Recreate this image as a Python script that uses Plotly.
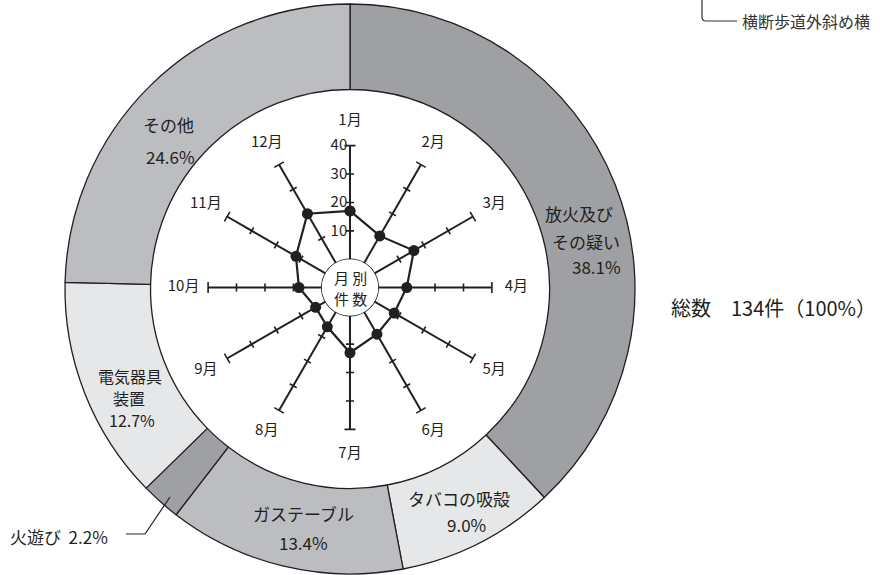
import math
import plotly.graph_objects as go

# ---------------- data ----------------
cause_labels = ["放火及び\nその疑い", "タバコの吸殻", "ガステーブル", "火遊び", "電気器具\n装置", "その他"]
cause_counts = [51, 12, 18, 3, 17, 33]
cause_pct_text = ["38.1%", "9.0%", "13.4%", "2.2%", "12.7%", "24.6%"]
cause_colors = ["#9fa0a3", "#e6e7e8", "#bcbdc0", "#9fa0a3", "#e6e7e8", "#bcbdc0"]

months = ["1月", "2月", "3月", "4月", "5月", "6月", "7月", "8月", "9月", "10月", "11月", "12月"]
month_counts = [17, 11, 16, 10, 8, 9, 13, 6, 4, 8, 12, 20]
radial_ticks = [10, 20, 30, 40]

total_text = "総数　134件（100%）"
corner_text = "横断歩道外斜め横"
center_text = ["月 別", "件 数"]

W, H = 880, 575
FONT = "Noto Sans CJK JP"
TXT = "#231f20"

def px(x):
    return x / W

def py(y):
    return 1 - y / H

# geometry (pixels)
DCX, DCY, DR = 350, 289, 285          # donut
PCX, PCY = 350, 287.5                  # polar centre
HOLE_PX, AXIS_PX = 28.3, 142.0         # radius of value 0 and of value 40
RMAX = 48.8                            # radial range top (room for month labels)
LABEL_R = 48.6
PR = HOLE_PX + (AXIS_PX - HOLE_PX) * RMAX / radial_ticks[-1]
HOLE = HOLE_PX / PR

fig = go.Figure()

fig.add_trace(go.Pie(
    values=cause_counts,
    labels=[l.replace("\n", "") for l in cause_labels],
    sort=False,
    direction="clockwise",
    rotation=0,
    hole=0.70,
    textinfo="none",
    hoverinfo="label+percent",
    marker=dict(colors=cause_colors, line=dict(color="#231f20", width=1.3)),
    domain=dict(x=[px(DCX - DR), px(DCX + DR)], y=[py(DCY + DR), py(DCY - DR)]),
    showlegend=False,
))

angles = [i * 360 / len(months) for i in range(len(months))]

# spokes (axis per month, 0 .. 40)
sr, st = [], []
for a in angles:
    sr += [0, radial_ticks[-1], None]
    st += [a, a, None]
fig.add_trace(go.Scatterpolar(
    r=sr, theta=st, mode="lines",
    line=dict(color="#231f20", width=2),
    hoverinfo="skip", showlegend=False, subplot="polar",
))

# spoke tick marks (short chords perpendicular to each spoke)
def r_px(v):
    return HOLE_PX + (AXIS_PX - HOLE_PX) * v / radial_ticks[-1]

tr, tt = [], []
for a in angles:
    for v in radial_ticks:
        L = 5.5 if v == radial_ticks[-1] else 4.0
        d = math.degrees(L / r_px(v))
        tr += [v, v, None]
        tt += [a - d, a + d, None]

fig.add_trace(go.Scatterpolar(
    r=tr, theta=tt, mode="lines",
    line=dict(color="#231f20", width=1.6),
    hoverinfo="skip", showlegend=False, subplot="polar",
))

# center circle
circ_t = [i for i in range(0, 361, 3)]
fig.add_trace(go.Scatterpolar(
    r=[0] * len(circ_t), theta=circ_t, mode="lines",
    line=dict(color="#231f20", width=1.4),
    hoverinfo="skip", showlegend=False, subplot="polar",
))

# month labels
fig.add_trace(go.Scatterpolar(
    r=[LABEL_R] * len(months), theta=angles, mode="text",
    text=months, textposition="middle center",
    textfont=dict(size=15, color=TXT, family=FONT),
    cliponaxis=False, hoverinfo="skip", showlegend=False, subplot="polar",
))

fig.add_trace(go.Scatterpolar(
    r=month_counts + month_counts[:1],
    theta=angles + angles[:1],
    mode="lines+markers",
    line=dict(color="#231f20", width=2.2),
    marker=dict(color="#231f20", size=11),
    text=months + months[:1],
    hovertemplate="%{text}: %{r}件<extra></extra>",
    showlegend=False, subplot="polar",
))

fig.update_layout(
    width=W, height=H,
    margin=dict(l=0, r=0, t=0, b=0),
    paper_bgcolor="white",
    font=dict(family=FONT, color=TXT),
    polar=dict(
        domain=dict(x=[px(PCX - PR), px(PCX + PR)], y=[py(PCY + PR), py(PCY - PR)]),
        hole=HOLE,
        bgcolor="rgba(0,0,0,0)",
        angularaxis=dict(
            rotation=90, direction="clockwise",
            showline=False, showgrid=False,
            ticks="", showticklabels=False,
        ),
        radialaxis=dict(
            range=[0, RMAX], tickvals=radial_ticks,
            angle=90, side="counterclockwise", tickangle=90,
            showline=False, showgrid=False, ticks="",
            tickfont=dict(size=15, color=TXT, family=FONT),
        ),
    ),
)

ann = []
def add(text, x, y, size=17, xanchor="center", color=TXT):
    ann.append(dict(text=text, x=px(x), y=py(y), xref="paper", yref="paper",
                    showarrow=False, xanchor=xanchor, yanchor="middle", borderpad=0,
                    font=dict(size=size, color=color, family=FONT)))

# donut labels
add(cause_labels[0].split("\n")[0], 614, 213, xanchor="right")
add(cause_labels[0].split("\n")[1], 621, 241, xanchor="right")
add(cause_pct_text[0], 622, 267, xanchor="right")
add(cause_labels[1], 459, 498)
add(cause_pct_text[1], 467, 524)
add(cause_labels[2], 303, 513)
add(cause_pct_text[2], 303, 542)
add(cause_labels[3] + "  " + cause_pct_text[3], 9, 536, xanchor="left")
add(cause_labels[4].split("\n")[0], 130, 375.5, size=16)
add(cause_labels[4].split("\n")[1], 129, 397.5, size=16)
add(cause_pct_text[4], 132, 419.5, size=16)
add(cause_labels[5], 168, 125)
add(cause_pct_text[5], 170, 157)

# center text
add(center_text[0], PCX, 278, size=15)
add(center_text[1], PCX, 298, size=15)

# right texts
add(total_text, 670, 308, size=20, xanchor="left")
add(corner_text, 741, 21, size=16, xanchor="left", color="#333333")

fig.update_layout(annotations=ann)

shapes = [
    dict(type="path", xref="paper", yref="paper",
         path=f"M {px(126)},{py(534)} L {px(145)},{py(534)} L {px(170)},{py(497)}",
         line=dict(color="#231f20", width=1.2)),
    dict(type="path", xref="paper", yref="paper",
         path=f"M {px(702)},{py(0)} L {px(702)},{py(17)} Q {px(702)},{py(21)} {px(706)},{py(21)} L {px(737)},{py(21)}",
         line=dict(color="#333333", width=1.2)),
]
fig.update_layout(shapes=shapes)

fig.write_html("out.html", config={"displayModeBar": False},
               post_script="document.body.style.margin='0';document.body.style.overflow='hidden';")
